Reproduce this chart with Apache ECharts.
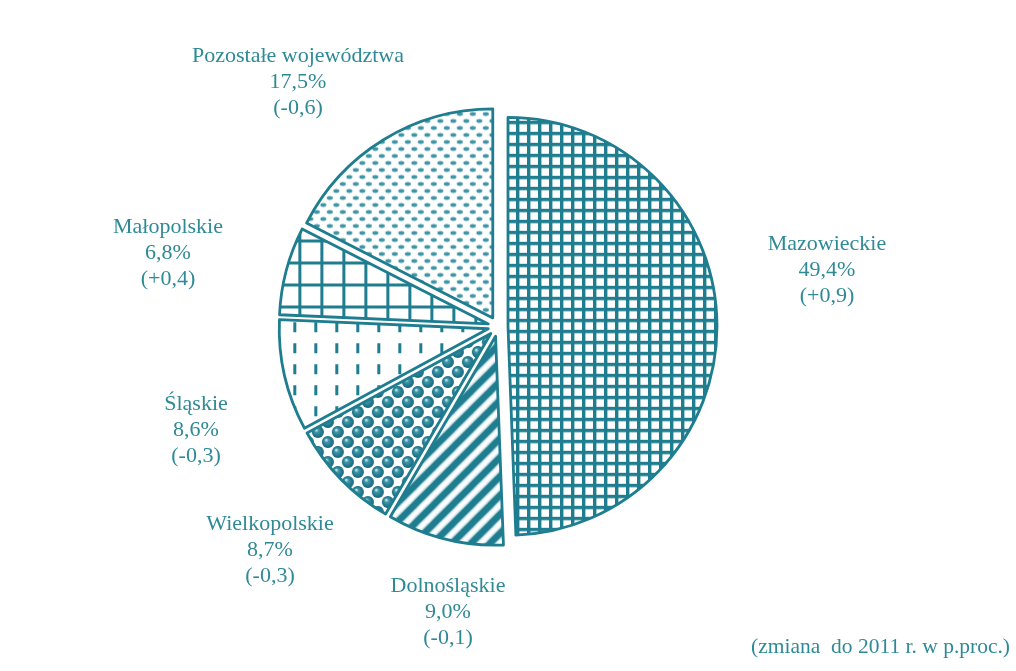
<!DOCTYPE html>
<html>
<head>
<meta charset="utf-8">
<script src="https://cdn.jsdelivr.net/npm/echarts@6/dist/echarts.min.js"></script>
<style>
  html, body { margin: 0; padding: 0; background: #ffffff; }
  #chart { width: 1016px; height: 671px; }
</style>
</head>
<body>
<div id="chart"></div>
<script>
// Udział województw (%) oraz zmiana do 2011 r. w punktach procentowych
const regions = ['Mazowieckie', 'Dolnośląskie', 'Wielkopolskie', 'Śląskie', 'Małopolskie', 'Pozostałe województwa'];
const shares = [49.4, 9.0, 8.7, 8.6, 6.8, 17.5];
const changes = [0.9, -0.1, -0.3, -0.3, 0.4, -0.6];
const note = '(zmiana  do 2011 r. w p.proc.)';

const INK = '#1f7d90';
const TEXT = '#2f8a96';
const FONT = '"Liberation Serif", "Times New Roman", serif';

// Pie geometry and label anchor points (pixels)
const PIE_CENTER = [498, 326.5];
const PIE_RADIUS = 209;
const LABEL_SPOTS = [[827, 270], [448, 612], [270, 550], [196, 430], [168, 253], [298, 82]];

// ---- fill patterns ----
function tile(w, h, draw) {
  const c = document.createElement('canvas');
  c.width = w; c.height = h;
  const g = c.getContext('2d');
  g.fillStyle = '#ffffff';
  g.fillRect(0, 0, w, h);
  draw(g, w, h);
  return { image: c, repeat: 'repeat' };
}

const fineGrid = tile(11, 11, g => {
  g.fillStyle = INK;
  g.fillRect(0, 0, 11, 3.4);
  g.fillRect(0, 0, 3.4, 11);
});

const diagonal = tile(19, 19, (g, w) => {
  g.strokeStyle = INK;
  g.lineWidth = 6.2;
  g.shadowColor = INK;
  g.shadowBlur = 2.5;
  for (const c of [-w, 0, w]) {
    g.beginPath();
    g.moveTo(c - 3, w + 3);
    g.lineTo(c + w + 3, -3);
    g.stroke();
  }
});

const spheres = tile(20, 20, (g, w) => {
  const ball = (x, y) => {
    const gr = g.createRadialGradient(x - 1.8, y - 2.2, 0.4, x, y, 6.2);
    gr.addColorStop(0, '#c9e6eb');
    gr.addColorStop(0.3, '#3d97a7');
    gr.addColorStop(1, '#12627a');
    g.fillStyle = gr;
    g.beginPath();
    g.arc(x, y, 6, 0, Math.PI * 2);
    g.fill();
  };
  const h = w / 2, q = w / 4;
  for (const dx of [-w, 0, w]) {
    for (const dy of [-w, 0, w]) {
      ball(q + dx, q + dy);
      ball(q + h + dx, q + h + dy);
    }
  }
});

const dashes = tile(21, 21, g => {
  g.fillStyle = INK;
  g.fillRect(9, 5, 3, 10);
});

const bigGrid = tile(22, 22, g => {
  g.fillStyle = INK;
  g.fillRect(0, 0, 22, 3);
  g.fillRect(0, 0, 3, 22);
});

const dots = tile(13, 14, g => {
  g.fillStyle = '#3f95a6';
  const dot = (x, y) => { g.beginPath(); g.ellipse(x, y, 3, 1.9, 0, 0, Math.PI * 2); g.fill(); };
  dot(3.5, 3.5); dot(10, 10.5); dot(-3, 10.5); dot(16.5, 3.5); dot(10, -3.5); dot(3.5, 17.5);
});

const fills = [fineGrid, diagonal, spheres, dashes, bigGrid, dots];

const fmt = v => v.toFixed(1).replace('.', ',');
const fmtChange = v => (v > 0 ? '+' : '') + fmt(v);

// Slice captions: name, share and change, centred on their anchor points
const captions = regions.map((name, i) => ({
  type: 'text',
  x: LABEL_SPOTS[i][0],
  y: LABEL_SPOTS[i][1],
  style: {
    text: name + '\n' + fmt(shares[i]) + '%\n(' + fmtChange(changes[i]) + ')',
    font: '22px ' + FONT,
    lineHeight: 26,
    fill: TEXT,
    align: 'center',
    verticalAlign: 'middle'
  }
}));

const chart = echarts.init(document.getElementById('chart'), null, { renderer: 'canvas' });

chart.setOption({
  backgroundColor: '#ffffff',
  animation: false,
  graphic: captions.concat([{
    type: 'text',
    right: 6,
    top: 636,
    style: { text: note, font: '21.5px ' + FONT, fill: TEXT }
  }]),
  series: [{
    type: 'pie',
    center: PIE_CENTER,
    radius: PIE_RADIUS,
    startAngle: 90,
    clockwise: true,
    avoidLabelOverlap: false,
    selectedMode: 'multiple',
    selectedOffset: 10,
    emphasis: { disabled: true },
    itemStyle: { borderColor: INK, borderWidth: 2.8 },
    label: { show: false },
    labelLine: { show: false },
    data: regions.map((name, i) => ({
      name,
      value: shares[i],
      selected: true,
      itemStyle: { color: fills[i] }
    }))
  }]
});
</script>
</body>
</html>
